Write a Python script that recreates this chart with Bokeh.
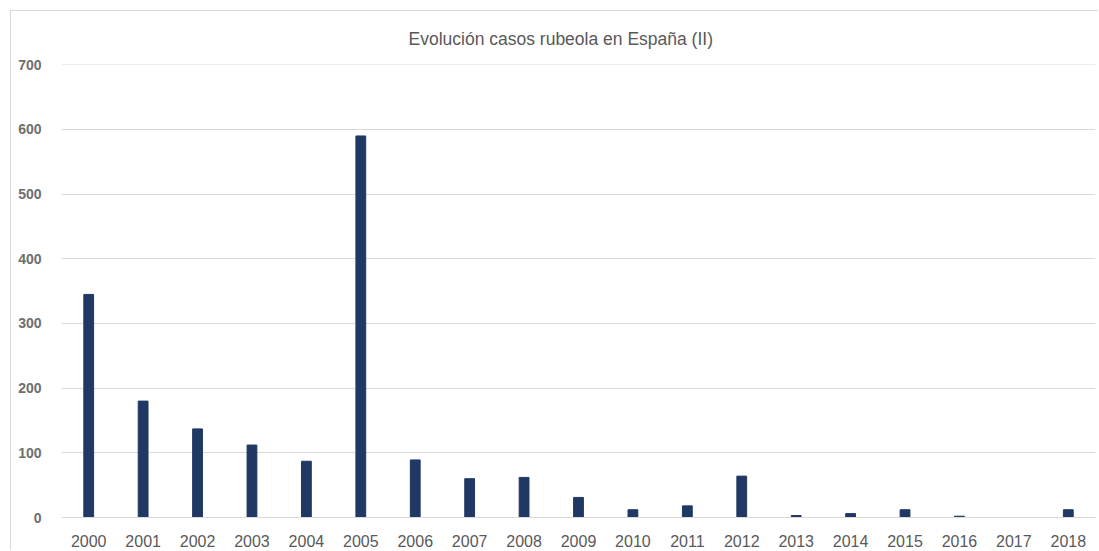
from bokeh.plotting import figure
from bokeh.models import ColumnDataSource, Range1d, SingleIntervalTicker
from bokeh.embed import file_html
from bokeh.resources import INLINE

years = [str(y) for y in range(2000, 2019)]
cases = [345, 180, 137, 112, 87, 590, 89, 60, 62, 31, 12, 18, 64, 3, 6, 12, 2, 0, 12]

source = ColumnDataSource(data=dict(year=years, cases=cases))

p = figure(
    x_range=years,
    y_range=Range1d(0, 700.5),
    width=1088,
    height=540,
    output_backend="svg",
    toolbar_location=None,
    title="Evolución casos rubeola en España (II)",
    min_border_left=50,
    min_border_right=4,
    min_border_top=53,
    min_border_bottom=34,
)
p.styles = {
    "margin-left": "10px",
    "margin-top": "10px",
    "border-top": "1px solid #d9d9d9",
    "border-left": "1px solid #d9d9d9",
}

p.vbar(x="year", top="cases", width=0.18, source=source,
       fill_color="#1f3864", line_color="#1f3864")

p.title.align = "left"
p.title.offset = 347
p.title.vertical_align = "top"
p.title.text_font = "Liberation Sans"
p.title.text_font_size = "17.5px"
p.title.text_font_style = "normal"
p.title.text_color = "#595959"
p.title.standoff = 28

p.outline_line_color = None
p.background_fill_color = "white"
p.border_fill_color = "white"

p.xgrid.grid_line_color = None
p.ygrid.grid_line_color = "#d9d9d9"
p.ygrid.grid_line_width = 1

p.yaxis.ticker = SingleIntervalTicker(interval=100)
p.yaxis.axis_line_color = None
p.yaxis.major_tick_line_color = None
p.yaxis.minor_tick_line_color = None
p.yaxis.major_label_text_font = "Liberation Sans"
p.yaxis.major_label_text_font_size = "14px"
p.yaxis.major_label_text_font_style = "bold"
p.yaxis.major_label_text_color = "#6e6e6e"
p.yaxis.major_label_standoff = 14

p.xaxis.axis_line_color = "#d9d9d9"
p.xaxis.major_tick_line_color = None
p.xaxis.minor_tick_line_color = None
p.xaxis.major_label_text_font = "Liberation Sans"
p.xaxis.major_label_text_font_size = "16px"
p.xaxis.major_label_text_color = "#595959"
p.xaxis.major_label_standoff = 11

open("out.html", "w").write(file_html(p, INLINE))
